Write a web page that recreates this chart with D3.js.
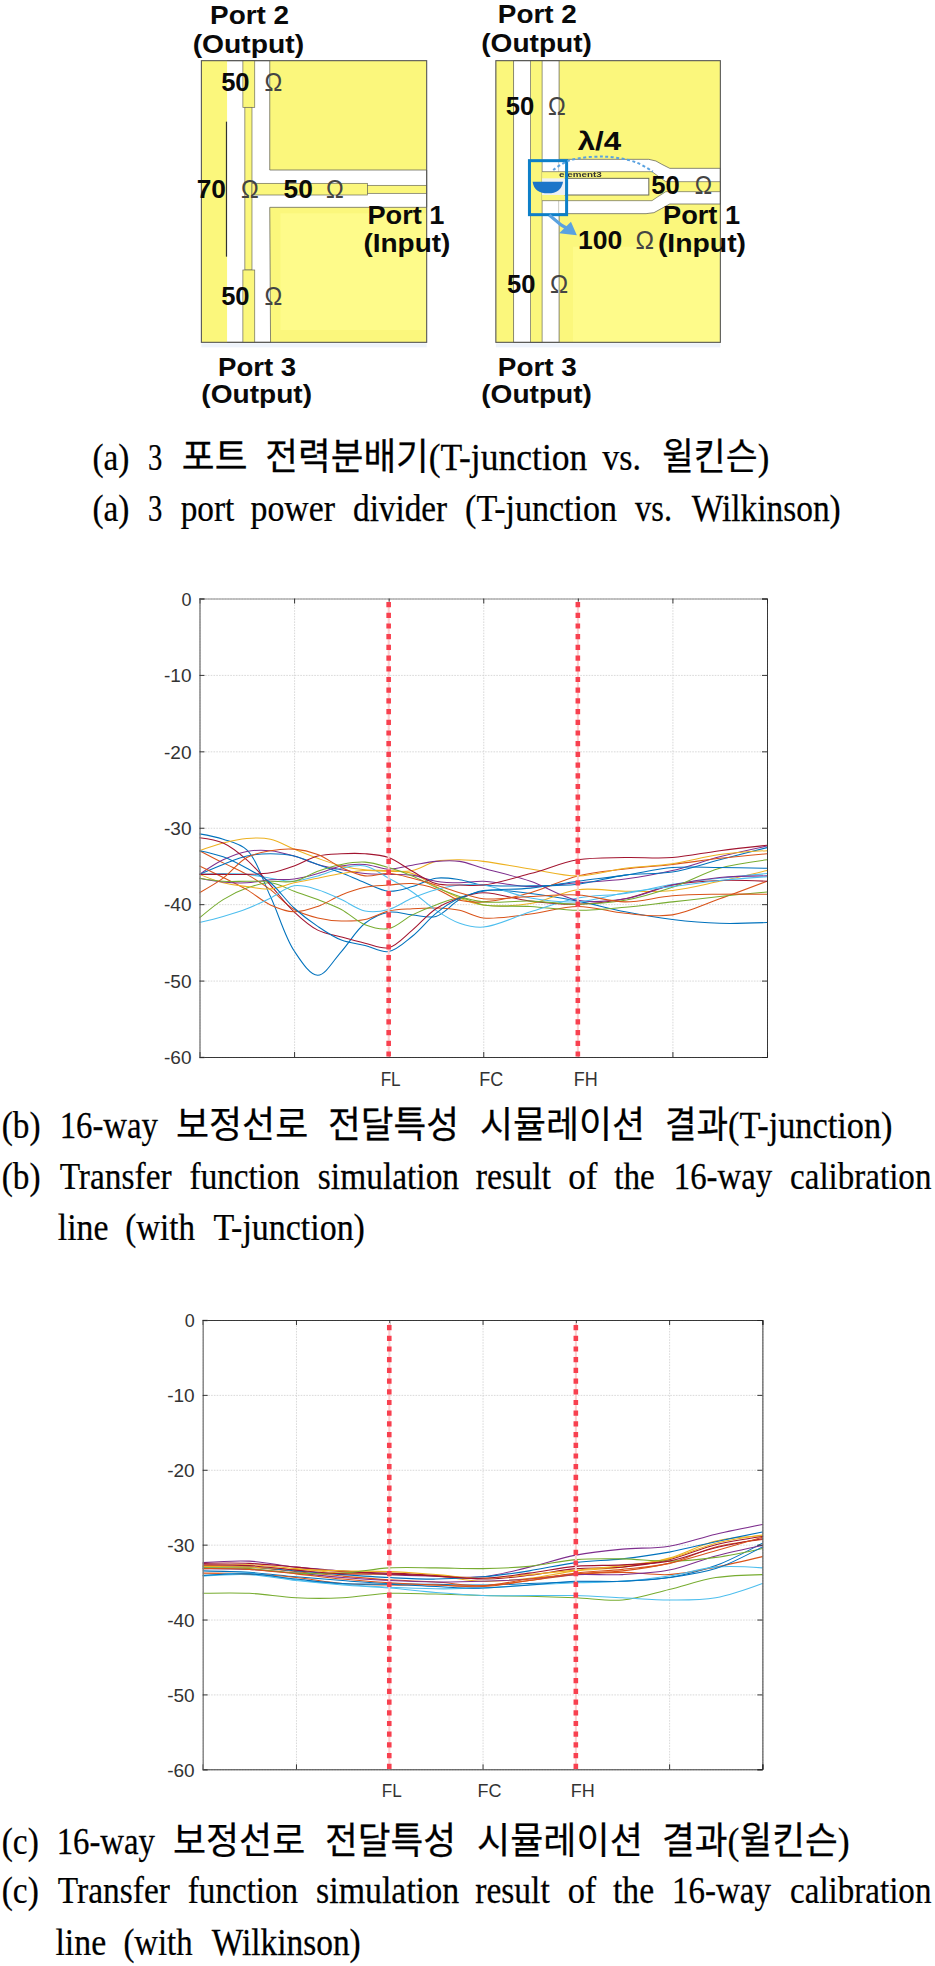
<!DOCTYPE html>
<html>
<head>
<meta charset="utf-8">
<script src="https://cdn.jsdelivr.net/npm/d3@7"></script>
<style>html,body{margin:0;padding:0;background:#fff}svg{display:block}</style>
</head>
<body>
<svg id="fig" width="935" height="1966" viewBox="0 0 935 1966"></svg>
<script>
// ---------- data ----------
const xTickValues = [0,1,2,3,4,5,6];
const xTickLabels = ["","","FL","FC","FH","",""];
const yTickValues = [0,-10,-20,-30,-40,-50,-60];
const matlabColors = ["#0072BD","#D95319","#EDB120","#7E2F8E","#77AC30","#4DBEEE","#A2142F"];
const markerLines = [2,4];

// Chart (b): T-junction
const xB = [0,.25,.5,.75,1,1.25,1.5,1.75,2,2.25,2.5,2.75,3,3.5,4,4.5,5,5.5,6];
const b01 = [-30.8,-31.5,-32.9,-39,-46.1,-49.3,-46.2,-42.5,-41.05,-41.4,-41.6,-39.4,-38.2,-38.6,-39.6,-41,-42,-42.5,-42.4];
const b02 = [-33,-34.6,-36.1,-38.1,-40.7,-41.8,-42.2,-42,-40.9,-40.6,-40.5,-40.8,-41.8,-41.3,-40.3,-41.2,-41.4,-39.3,-37];
const b03 = [-33,-32,-31.4,-31.5,-32.8,-34,-35,-35.5,-35.6,-36,-37.7,-39.2,-40.1,-39.9,-38.1,-38.3,-38.2,-37,-35.6];
const b04 = [-36.1,-34.2,-33.1,-33,-33.7,-34.8,-35.5,-36,-36.1,-36.2,-37,-37.2,-37,-37.7,-37.2,-36.7,-35.6,-33.8,-32.4];
const b05 = [-41.8,-39.4,-37.9,-37.2,-38.3,-39.4,-40.7,-42.7,-43.2,-41.4,-40.1,-39.2,-40.1,-40.3,-40.8,-40.4,-39.7,-39,-38.4];
const b06 = [-36.1,-36,-36.1,-36.6,-37,-36.3,-35.3,-35,-36.6,-38.4,-40.8,-42.5,-43,-41,-39.2,-38.6,-37.4,-36.6,-36];
const b07 = [-31.3,-32,-34.2,-37.5,-41,-43.4,-44.3,-45.1,-45.7,-43.4,-40.6,-39.2,-38.5,-39.6,-40,-39.3,-37.5,-36.9,-37];
const b08 = [-36.1,-34.8,-33.7,-33.4,-33.7,-34.8,-35.9,-37.2,-38.3,-37.7,-36.6,-36.8,-37.5,-37.6,-37.4,-36.2,-35.8,-34.2,-32.6];
const b09 = [-35,-36.5,-38.1,-40.1,-41,-40.3,-38.8,-37.8,-37.5,-37.3,-38,-39.5,-39.7,-38.5,-36.3,-35.4,-34.8,-34,-33.4];
const b10 = [-36.1,-37.2,-37.7,-38,-37.2,-36.6,-36,-35.6,-35.7,-35.6,-34.4,-34.2,-34.4,-35.4,-36.3,-35.3,-34.7,-33.5,-33];
const b11 = [-36.6,-37.1,-37.2,-36.8,-36.7,-36,-35,-34.8,-35.4,-34.9,-34.4,-34.4,-35.3,-37,-39.5,-39.3,-37.5,-36.5,-36.3];
const b12 = [-36.6,-37,-37,-37,-37,-35.7,-34.8,-34.5,-35.2,-36.3,-37.8,-39,-39.7,-39.6,-40,-39.5,-37.8,-35.3,-34.2];
const b13 = [-42.4,-41.6,-40.6,-39.2,-37.6,-38.1,-39.4,-40.9,-40.7,-39.2,-38.1,-37.5,-37.5,-39.2,-39.7,-38.5,-37.7,-36.9,-36.4];
const b14 = [-36.1,-36.1,-36.1,-35.9,-35,-33.7,-33.4,-33.4,-33.9,-35.7,-37.3,-37.5,-37.5,-36,-34.2,-33.9,-33.9,-33,-32.3];
const b15 = [-33,-33.8,-35.3,-37.2,-40.5,-42.9,-44.7,-45.4,-46.2,-44.2,-41.2,-39.2,-38.3,-37.9,-37,-36.2,-35.2,-35.2,-35.3];
const b16 = [-38.5,-36.6,-33.9,-33,-32.8,-33.5,-35.2,-36.3,-36,-36.6,-37.5,-38.5,-39.3,-39,-38.8,-39.7,-38.9,-38.7,-38.7];
const seriesB = [b01,b02,b03,b04,b05,b06,b07,b08,b09,b10,b11,b12,b13,b14,b15,b16];

// Chart (c): Wilkinson
const xC = [0,.5,1,1.5,2,2.5,3,3.5,4,4.5,5,5.5,6];
const c01 = [-33.5,-33.7,-34.3,-34.8,-35.2,-35.3,-35.4,-35.2,-35,-34.9,-34.4,-32.8,-29.8];
const c02 = [-32.9,-33,-33.6,-34.2,-34.7,-35,-35.5,-34.8,-33.8,-33.3,-32.5,-30.3,-29.3];
const c03 = [-32.8,-32.7,-33.2,-33.8,-34,-34.2,-34.9,-34.5,-33.5,-33,-31.8,-29.5,-28.8];
const c04 = [-32.4,-32.2,-33,-33.5,-34,-34.2,-34.3,-33,-31.4,-30.6,-30.2,-28.6,-27.3];
const c05 = [-36.5,-36.5,-37.1,-37.1,-36.5,-36.6,-36.8,-36.9,-37.1,-37.4,-36,-34.4,-34];
const c06 = [-34.2,-34,-34.8,-35.4,-35.8,-36.4,-36.8,-36.8,-36.8,-37.1,-37.4,-37.1,-35.2];
const c07 = [-32.5,-32.5,-33,-33.6,-33.8,-34.1,-34.6,-34.1,-33.2,-33,-32,-30,-28.9];
const c08 = [-33,-33,-33.5,-34,-34.4,-34.6,-34.3,-33.5,-32.4,-31.9,-31,-29.6,-28.3];
const c09 = [-33.8,-33.9,-34.4,-35.2,-35.4,-35.4,-35.6,-34.8,-34,-33.7,-34,-33,-31.6];
const c10 = [-32.9,-33,-33.3,-33.5,-33.6,-34,-34.5,-34,-33.4,-32.8,-31.9,-29.8,-28.7];
const c11 = [-33.2,-33.3,-33.8,-34.4,-34.8,-35,-34.9,-34.6,-34,-34,-33.4,-31.5,-30.1];
const c12 = [-33.1,-33.2,-33.8,-33.8,-33.1,-33.1,-33.2,-32.9,-32,-31.9,-32.2,-31.7,-30.5];
const c13 = [-34.2,-33.8,-34.7,-35.3,-35.7,-35.9,-35.8,-35.4,-35.1,-34.9,-34.2,-33,-33.1];
const c14 = [-32.7,-32.8,-33.4,-33.9,-33.9,-34.2,-34.5,-33.8,-32.9,-32.7,-32.2,-30.4,-29.2];
const c15 = [-34.1,-33.9,-34.6,-35.2,-35.3,-35.6,-35.8,-35.4,-34.9,-34.9,-34.4,-33.2,-30.3];
const c16 = [-33.2,-33.3,-33.9,-34.6,-35.1,-35.4,-35.5,-34.6,-33.9,-33.5,-32.5,-30.8,-29];
const seriesC = [c01,c02,c03,c04,c05,c06,c07,c08,c09,c10,c11,c12,c13,c14,c15,c16];

// ---------- captions ----------
const SERIF = "'Liberation Serif','Noto Sans CJK KR',serif";
const SANS = "'Liberation Sans',Arial,sans-serif";
const svg = d3.select("#fig");
const capK = 935/1568;
const captions = [
 {y:470, w:[["(a)",155,217],["3",248,272],["포트",305,415],["전력분배기(T-junction",445,985],["vs.",1010,1075],["윌킨슨)",1110,1290]]},
 {y:520.7, w:[["(a)",155,217],["3",248,272],["port",303,393],["power",420,562],["divider",592,750],["(T-junction",780,1035],["vs.",1065,1127],["Wilkinson)",1160,1410]]},
 {y:1137.7, w:[["(b)",3,68],["16-way",100,265],["보정선로",295,517],["전달특성",550,770],["시뮬레이션",805,1082],["결과(T-junction)",1115,1497]]},
 {y:1189.3, w:[["(b)",3,68],["Transfer",100,288],["function",318,503],["simulation",533,770],["result",798,924],["of",953,1002],["the",1030,1098],["16-way",1130,1295],["calibration",1325,1562]]},
 {y:1240, w:[["line",97,182],["(with",210,327],["T-junction)",358,612]]},
 {y:1854, w:[["(c)",3,65],["16-way",95,260],["보정선로",290,512],["전달특성",545,765],["시뮬레이션",800,1078],["결과(윌킨슨)",1110,1425]]},
 {y:1903, w:[["(c)",3,65],["Transfer",97,285],["function",315,500],["simulation",530,770],["result",797,922],["of",952,1000],["the",1028,1097],["16-way",1127,1293],["calibration",1325,1562]]},
 {y:1955, w:[["line",93,178],["(with",207,323],["Wilkinson)",355,605]]}
];
const capG = svg.append("g").attr("font-family",SERIF).attr("font-size",37).attr("fill","#000")
  .attr("stroke","#000").attr("stroke-width",.25);
captions.forEach(l => l.w.forEach(([t,a,b]) => {
  const el = capG.append("text").text(t);
  const natural = el.node().getComputedTextLength();
  el.attr("transform",`translate(${a*capK},${l.y}) scale(${(b-a)*capK/natural},1)`);
}));

// ---------- line charts ----------
function drawChart(o){
  const g = svg.append("g");
  const x = d3.scaleLinear().domain([0,6]).range([o.left,o.right]);
  const y = d3.scaleLinear().domain([0,-60]).range([o.top,o.bottom]);
  const w = o.right-o.left, h = o.bottom-o.top;

  // grid
  const gx = g.append("g").attr("transform",`translate(0,${o.bottom})`)
    .call(d3.axisBottom(x).tickValues(xTickValues).tickSize(-h).tickFormat(""));
  const gy = g.append("g").attr("transform",`translate(${o.left},0)`)
    .call(d3.axisLeft(y).tickValues(yTickValues).tickSize(-w).tickFormat(""));
  [gx,gy].forEach(a=>{ a.select(".domain").remove();
    a.selectAll("line").attr("stroke","#cfcfcf").attr("stroke-width",.8).attr("stroke-dasharray","1.6 1.2"); });

  // curves
  const line = d3.line().x((d,i)=>x(o.xs[i])).y(d=>y(d)).curve(d3.curveCatmullRom.alpha(.5));
  g.append("g").selectAll("path").data(o.series).join("path")
    .attr("d",line).attr("fill","none").attr("stroke-width",1.05)
    .attr("stroke",(d,i)=>matlabColors[i%matlabColors.length]);

  // frame and inner ticks
  const ax = [
    g.append("g").attr("transform",`translate(0,${o.bottom})`).call(d3.axisBottom(x).tickValues(xTickValues).tickSize(-5).tickFormat("")),
    g.append("g").attr("transform",`translate(0,${o.top})`).call(d3.axisTop(x).tickValues(xTickValues).tickSize(-5).tickFormat("")),
    g.append("g").attr("transform",`translate(${o.right},0)`).call(d3.axisRight(y).tickValues(yTickValues).tickSize(-5).tickFormat("")),
    g.append("g").attr("transform",`translate(${o.left},0)`).call(d3.axisLeft(y).tickValues(yTickValues).tickSize(-5).tickFormat(""))
  ];
  ax.forEach(a=>a.selectAll("path,line").attr("stroke","#222").attr("stroke-width",.9));
  ax[1].select(".domain").attr("stroke",o.topColor);
  ax[3].select(".domain").attr("stroke","#808080").attr("stroke-width",1.4);

  // red markers
  markerLines.forEach(m=>{
    g.append("line").attr("x1",x(m)).attr("x2",x(m)).attr("y1",y(0)+3).attr("y2",y(-60))
      .attr("stroke","#fbd0d0").attr("stroke-width",2);
    g.append("line").attr("x1",x(m)).attr("x2",x(m)).attr("y1",y(0)+o.dashStart).attr("y2",y(-60))
      .attr("stroke","#f8404f").attr("stroke-width",4.6).attr("stroke-dasharray","5.2 5.5");
  });

  // labels
  const yl = g.append("g").attr("font-family",SANS).attr("font-size",17.5).attr("fill","#333");
  yl.selectAll("text").data(yTickValues).join("text")
    .attr("x",o.left-8).attr("y",d=>y(d)+7.3).attr("text-anchor","end").text(d=>d)
    .attr("textLength",d=>d===0?10:27.5).attr("lengthAdjust","spacingAndGlyphs");
  const xl = g.append("g").attr("font-family",SANS).attr("font-size",o.xFont).attr("fill","#333");
  xl.selectAll("text").data(xTickValues.filter(v=>xTickLabels[v])).join("text")
    .attr("x",d=>x(d)+o.xShift[d]).attr("y",o.bottom+o.xBase).text(d=>xTickLabels[d])
    .attr("textLength",d=>d===2?20:24).attr("lengthAdjust","spacingAndGlyphs");
}
drawChart({left:199.5,right:767,top:598.5,bottom:1057,xs:xB,series:seriesB,topColor:"#808080",
  dashStart:3.5,xFont:19.5,xBase:29,xShift:{2:-8,3:-4,4:-4}});
drawChart({left:202.7,right:762.4,top:1320,bottom:1769.3,xs:xC,series:seriesC,topColor:"#222",
  dashStart:5,xFont:17.5,xBase:27.5,xShift:{2:-7.5,3:-5,4:-5}});

// ---------- schematic (a) ----------
const sx = d3.scaleLinear().domain([0,1568]).range([150,150+1568/2.53]);
const sy = d3.scaleLinear().domain([0,1260]).range([0,420]);
const defs = svg.append("defs");
defs.append("filter").attr("id","soft").append("feGaussianBlur").attr("stdDeviation",.45);
const sg = svg.append("g").attr("filter","url(#soft)");
const R = (X0,Y0,X1,Y1,fill,stroke,sw)=>sg.append("rect").attr("x",sx(X0)).attr("y",sy(Y0))
   .attr("width",sx(X1)-sx(X0)).attr("height",sy(Y1)-sy(Y0)).attr("fill",fill)
   .attr("stroke",stroke||"none").attr("stroke-width",sw||0);
const lp = d3.line().x(d=>sx(d[0])).y(d=>sy(d[1]));
const P = (pts,fill,stroke,sw,curve)=>sg.append("path").attr("d",(curve?lp.curve(curve):lp.curve(d3.curveLinear))(pts))
   .attr("fill",fill).attr("stroke",stroke||"none").attr("stroke-width",sw||0);
const YEL="#fbf77c", PALE="#fefb8a", EDGE="#6b6b5a";

// left board
R(130,1030,700,1042,"#eef3fb");
R(130,182,700,1027,YEL);
R(330,640,700,990,PALE);
P([[195,182],[303,182],[303,510],[700,510],[700,622],[303,622],[305,1027],[195,1027]],"#fff",EDGE,.8);
R(235,182,265,322,YEL,EDGE,.7);
R(240,322,258,810,YEL,EDGE,.7);
R(235,810,265,1027,YEL,EDGE,.7);
R(258,550,550,585,YEL,EDGE,.7);
R(550,556,700,580,YEL,EDGE,.7);
R(192,365,195,770,"#333");
R(130,182,700,1027,"none","#555",1.1);

// right board
R(875,1030,1443,1042,"#eef3fb");
R(875,182,1443,1027,YEL);
R(1070,740,1443,1027,PALE);
R(920,182,1035,1027,"#fff",EDGE,.8);
R(963,182,992,1027,YEL,EDGE,.7);
P([[1035,478],[1262,478],[1280,483],[1295,493],[1315,505],[1443,505],[1443,612],[1315,612],[1295,625],[1275,638],[1255,641],[1035,641]],"#fff",EDGE,.8);
P([[992,515],[1270,515],[1285,528],[1305,545],[1443,545],[1443,575],[1305,575],[1285,590],[1270,602],[992,602]],YEL,EDGE,.7);
R(1050,535,1262,585,"#fff",EDGE,1);
R(992,535,1050,585,"#eef1f4");
sg.append("path").attr("d",()=>{
   const cy=sy(545);
   return `M${sx(968)},${cy} L${sx(1045)},${cy} Q${sx(1040)},${sy(580)} ${sx(1007)},${sy(580)} Q${sx(972)},${sy(580)} ${sx(968)},${cy} Z`;
 }).attr("fill","#1f74c9");
sg.append("text").attr("x",sx(1035)).attr("y",sy(531)).attr("font-family",SANS).attr("font-size",7).attr("font-weight","bold")
  .attr("fill","#333").attr("textLength",sx(1143)-sx(1035)).attr("lengthAdjust","spacingAndGlyphs").text("element3");
R(960,482,1054,644,"none","#0d7fc8",3);
P([[1020,510],[1060,482],[1150,470],[1230,487],[1272,515]],"none","#5aa2e0",2,d3.curveCatmullRom).attr("stroke-dasharray","3 2.5");
P([[1010,645],[1040,675],[1062,690]],"none","#5aa2e0",3.2);
P([[1080,706],[1035,700],[1065,665]],"#5aa2e0");
R(875,182,1443,1027,"none","#555",1.1);

// schematic labels: [text, X0, X1, baselineY, bold]
const boardLabels = [
 ["Port 2",152,352,72,1],["(Output)",108,390,160,1],["50",180,252,272,1],["Ω",290,335,272,0],
 ["70",118,192,595,1],["Ω",230,275,595,0],["50",338,412,595,1],["Ω",445,490,595,0],
 ["Port 1",550,745,672,1],["(Input)",540,760,755,1],["50",180,252,915,1],["Ω",290,335,915,0],
 ["Port 3",172,370,1128,1],["(Output)",130,410,1210,1],
 ["Port 2",880,1080,68,1],["(Output)",838,1118,155,1],["50",900,972,345,1],["Ω",1007,1052,345,0],
 ["λ/4",1082,1192,450,1],["50",1268,1340,582,1],["Ω",1378,1422,582,0],["Port 1",1298,1493,672,1],
 ["100",1083,1195,748,1],["Ω",1228,1275,748,0],["(Input)",1285,1508,755,1],
 ["50",903,975,880,1],["Ω",1012,1058,880,0],["Port 3",880,1080,1128,1],["(Output)",838,1118,1210,1]
];
const tl = svg.append("g").attr("font-family",SANS).attr("fill","#0a0a0a");
boardLabels.forEach(([t,a,b,yy,bold])=>{
  tl.append("text").attr("x",sx(a)).attr("y",sy(yy)).text(t)
    .attr("font-size",bold?26.5:25).attr("font-weight",bold?"bold":"normal")
    .attr("fill",bold?"#0a0a0a":"#444")
    .attr("textLength",sx(b)-sx(a)).attr("lengthAdjust","spacingAndGlyphs");
});
</script>
</body>
</html>
